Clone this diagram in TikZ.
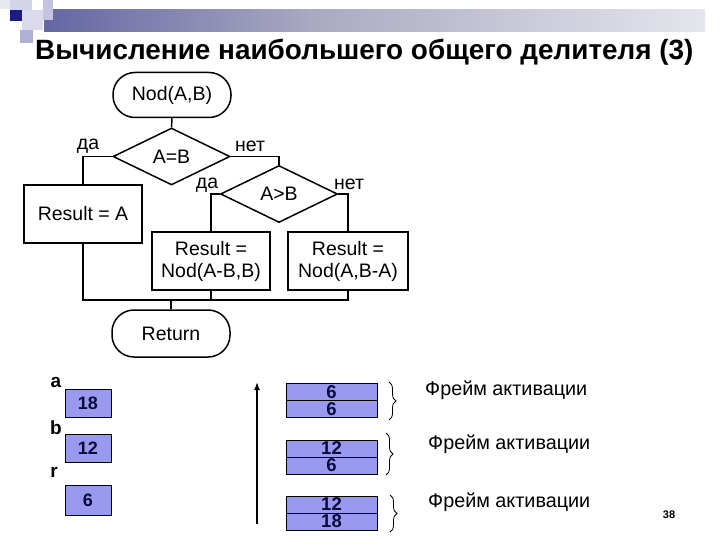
\documentclass[tikz,border=0pt]{standalone}
\usepackage{fontspec}
\setmainfont{Liberation Sans}
\usetikzlibrary{shapes.geometric,decorations.pathreplacing,arrows.meta}
\definecolor{varfill}{RGB}{153,153,240}
\definecolor{navy}{RGB}{10,10,60}
\definecolor{darkblue}{RGB}{28,28,130}
\pgfdeclarehorizontalshading{barshade}{100bp}{rgb(0bp)=(0.11,0.11,0.5); rgb(10bp)=(0.2,0.2,0.55); rgb(45bp)=(0.66,0.66,0.76); rgb(75bp)=(0.9,0.9,0.93); rgb(100bp)=(1,1,1)}
\tikzset{
  fs/.style={font=\fontsize{19.5}{22}\selectfont},
  flow/.style={draw=black, line width=1.5pt, fs, inner sep=0pt, align=center},
  term/.style={flow, rectangle, rounded corners=22pt, minimum width=118pt, minimum height=45pt},
  dec/.style={flow, diamond, minimum width=117pt, minimum height=57pt},
  proc/.style={flow, rectangle, minimum width=118pt, minimum height=58pt},
  conn/.style={line width=1.5pt, draw=black},
  lbl/.style={fs, inner sep=0pt},
  varbox/.style={fill=varfill, draw=black, line width=0.8pt, minimum width=46pt, minimum height=28pt, inner sep=0pt, font=\bfseries\fontsize{18}{20}\selectfont, text=navy},
  varlbl/.style={font=\bfseries\fontsize{19}{20}\selectfont, inner sep=0pt},
  cell/.style={fill=varfill, draw=black, line width=0.8pt, minimum width=91pt, minimum height=17pt, inner sep=0pt, font=\bfseries\fontsize{18.5}{17}\selectfont, text=navy},
  brc/.style={decorate, decoration={brace, amplitude=7pt}, line width=0.8pt},
  framelbl/.style={font=\fontsize{19.8}{20}\selectfont, anchor=west, inner sep=0pt}
}
\begin{document}
\begin{tikzpicture}[x=1pt,y=-1pt]
\useasboundingbox (0,0) rectangle (720,540);
\fill[white] (0,0) rectangle (720,540);
% decoration
\shade[shading=barshade] (44,10) rectangle (705,32);
\fill[color={rgb,255:red,232;green,232;blue,240}] (0,0) rectangle (10,9);
\fill[color={rgb,255:red,212;green,212;blue,232}] (10,0) rectangle (32,10);
\fill[color={rgb,255:red,196;green,196;blue,226}] (43,0) rectangle (53,20);
\fill[color={rgb,255:red,218;green,218;blue,236}] (22,10) rectangle (43,30);
\fill[color={rgb,255:red,176;green,176;blue,212}] (20,30) rectangle (33,43);
\fill[darkblue] (10,10) rectangle (22,21);
% title
\node[anchor=base west, inner sep=0pt, font=\bfseries\fontsize{27.9}{30}\selectfont] (title) at (35,60) {Вычисление наибольшего общего делителя (3)};
% flowchart
\node[term] (start) at (172,95) {Nod(A,B)};
\node[dec] (d1) at (171.5,156.5) {A=B};
\node[dec] (d2) at (279,194) {A>B};
\node[proc] (rA) at (83,214) {Result = A};
\node[proc] (r2) at (211,261) {Result =\\Nod(A-B,B)};
\node[proc, minimum width=120pt] (r3) at (348,261) {Result =\\Nod(A,B-A)};
\node[term, minimum height=47pt] (ret) at (171,333.5) {Return};
\draw[conn] (start.south) -- (d1.north);
\draw[conn] (d1.west) -| (rA.north);
\draw[conn] (d1.east) -| (d2.north);
\draw[conn] (d2.west) -| (r2.north);
\draw[conn] (d2.east) -| (r3.north);
\coordinate (jl) at (83,300);
\coordinate (jr) at (348,300);
\draw[conn] (rA.south) -- (jl) -- (jr) -- (r3.south);
\draw[conn] (r2.south) -- (r2.south |- jl);
\draw[conn] (ret.north) -- (ret.north |- jl);
\node[lbl] (l1) at (88,146) {да};
\node[lbl] (l2) at (250,146) {нет};
\node[lbl] (l3) at (207,185) {да};
\node[lbl] (l4) at (349,184) {нет};
% variables
\node[varlbl] (la) at (56,382) {a};
\node[varlbl] (lb) at (56,428) {b};
\node[varlbl] (lr) at (54,472) {r};
\node[varbox] (va) at (88,403) {18};
\node[varbox] (vb) at (88,448) {12};
\node[varbox, minimum height=30pt] (vr) at (88,500) {6};
% stack arrow
\coordinate (abot) at (257,524);
\coordinate (atop) at (257,382);
\draw[line width=1.5pt, -{Latex[length=8pt,width=6pt]}] (abot) -- (atop);
% frames
\node[cell] (f1a) at (331.5,391.8) {6};
\node[cell] (f1b) at (331.5,408.8) {6};
\node[cell] (f2a) at (331.5,448.5) {12};
\node[cell] (f2b) at (331.5,465.5) {6};
\node[cell] (f3a) at (331.5,504.5) {12};
\node[cell] (f3b) at (331.5,521.5) {18};
\coordinate (b1t) at (389,382); \coordinate (b1b) at (389,420);
\coordinate (b2t) at (386,433); \coordinate (b2b) at (386,475);
\coordinate (b3t) at (390,495); \coordinate (b3b) at (390,532);
\draw[brc] (b1t) -- (b1b);
\draw[brc] (b2t) -- (b2b);
\draw[brc] (b3t) -- (b3b);
\node[framelbl] (fl1) at (425,390) {Фрейм активации};
\node[framelbl] (fl2) at (428,444) {Фрейм активации};
\node[framelbl] (fl3) at (428,502) {Фрейм активации};
\node[font=\bfseries\fontsize{11}{12}\selectfont, inner sep=0pt] (pg) at (669,515) {38};
\end{tikzpicture}
\end{document}
